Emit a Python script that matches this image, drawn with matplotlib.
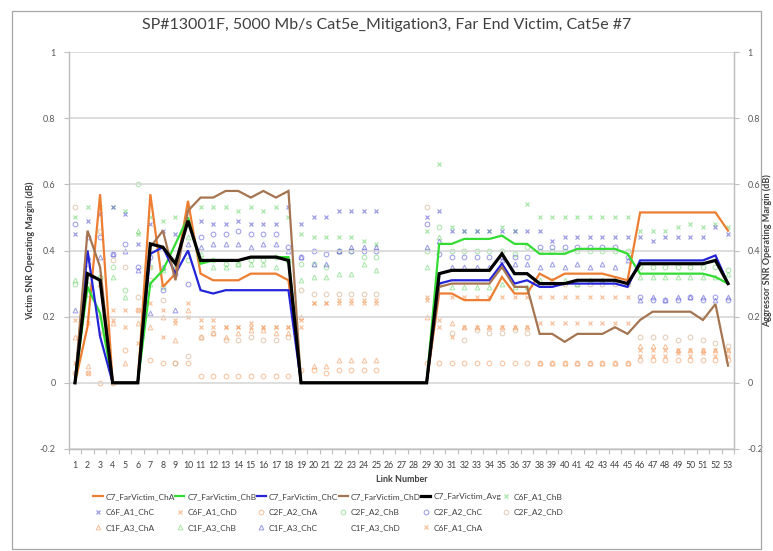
import numpy as np
import matplotlib
matplotlib.use('Agg')
import matplotlib.pyplot as plt
from matplotlib.lines import Line2D
from matplotlib.patches import Rectangle

plt.rcParams['font.family'] = ['Lato', 'DejaVu Sans']

N = np.nan
links = list(range(1, 54))
tick_labels = [str(i) for i in links]
title = "SP#13001F, 5000 Mb/s Cat5e_Mitigation3, Far End Victim, Cat5e #7"

# ---- victim lines (primary axis) ----
far_cha = [0, 0.17, 0.57, 0, 0, 0, 0.57, 0.29, 0.33, 0.55, 0.33, 0.31, 0.31, 0.31, 0.33, 0.33, 0.33, 0.31,
           0, 0, 0, 0, 0, 0, 0, 0, 0, 0, 0,
           0.27, 0.27, 0.25, 0.25, 0.25, 0.32, 0.27, 0.27, 0.33, 0.31, 0.33, 0.33, 0.33, 0.33, 0.32, 0.31,
           0.515, 0.515, 0.515, 0.515, 0.515, 0.515, 0.515, 0.46]
far_chb = [0, 0.29, 0.21, 0, 0, 0, 0.30, 0.34, 0.42, 0.50, 0.36, 0.37, 0.37, 0.37, 0.38, 0.38, 0.38, 0.38,
           0, 0, 0, 0, 0, 0, 0, 0, 0, 0, 0,
           0.42, 0.42, 0.435, 0.435, 0.435, 0.445, 0.42, 0.42, 0.39, 0.39, 0.39, 0.405, 0.405, 0.405, 0.405, 0.39,
           0.33, 0.33, 0.33, 0.33, 0.33, 0.33, 0.32, 0.30]
far_chc = [0, 0.40, 0.14, 0, 0, 0, 0.39, 0.41, 0.33, 0.40, 0.28, 0.27, 0.28, 0.28, 0.28, 0.28, 0.28, 0.28,
           0, 0, 0, 0, 0, 0, 0, 0, 0, 0, 0,
           0.30, 0.31, 0.31, 0.31, 0.31, 0.36, 0.30, 0.31, 0.29, 0.29, 0.30, 0.30, 0.30, 0.30, 0.30, 0.29,
           0.37, 0.37, 0.37, 0.37, 0.37, 0.37, 0.385, 0.30]
far_chd = [0, 0.46, 0.35, 0, 0, 0, 0.41, 0.46, 0.31, 0.52, 0.56, 0.56, 0.58, 0.58, 0.56, 0.58, 0.56, 0.58,
           0, 0, 0, 0, 0, 0, 0, 0, 0, 0, 0,
           0.29, 0.30, 0.30, 0.30, 0.30, 0.35, 0.29, 0.29, 0.148, 0.148, 0.124, 0.148, 0.148, 0.148, 0.168, 0.148,
           0.19, 0.215, 0.215, 0.215, 0.215, 0.19, 0.238, 0.052]
far_avg = [0, 0.33, 0.31, 0, 0, 0, 0.42, 0.41, 0.36, 0.49, 0.37, 0.37, 0.37, 0.37, 0.38, 0.38, 0.38, 0.37,
           0, 0, 0, 0, 0, 0, 0, 0, 0, 0, 0,
           0.33, 0.34, 0.34, 0.34, 0.34, 0.39, 0.33, 0.33, 0.30, 0.30, 0.30, 0.31, 0.31, 0.31, 0.31, 0.30,
           0.36, 0.36, 0.36, 0.36, 0.36, 0.36, 0.37, 0.30]

# ---- aggressor points (secondary axis) ----
c6f_a1_chb = [0.50, 0.53, 0.53, 0.53, 0.52, 0.45, 0.50, 0.49, 0.50, 0.53, 0.53, 0.53, 0.53, 0.52, 0.53, 0.52, 0.53, 0.50,
              0.45, 0.44, 0.44, 0.44, 0.44, 0.43, 0.42, N, N, N,
              0.46, 0.66, 0.47, 0.46, 0.46, 0.46, 0.47, 0.46, 0.54, 0.50, 0.50, 0.50, 0.50, 0.50, 0.50, 0.50, 0.50,
              0.46, 0.46, 0.46, 0.47, 0.48, 0.47, 0.48, 0.47]
c6f_a1_chc = [0.45, 0.49, 0.51, 0.53, 0.51, 0.42, 0.48, 0.46, 0.45, 0.48, 0.49, 0.48, 0.48, 0.49, 0.48, 0.48, 0.48, 0.53,
              0.48, 0.50, 0.50, 0.52, 0.52, 0.52, 0.52, N, N, N,
              0.50, 0.52, 0.46, 0.46, 0.46, 0.46, 0.46, 0.46, 0.46, 0.46, 0.43, 0.44, 0.44, 0.44, 0.44, 0.44, 0.44,
              0.44, 0.43, 0.44, 0.44, 0.44, 0.44, 0.47, 0.45]
c6f_a1_chd = [0.06, 0.03, 0.15, 0.22, 0.22, 0.22, 0.35, 0.22, 0.18, 0.24, 0.19, 0.19, 0.17, 0.17, 0.17, 0.17, 0.17, 0.17,
              0.17, 0.24, 0.24, 0.25, 0.25, 0.25, 0.25, N, N, N,
              0.25, 0.19, 0.26, 0.26, 0.26, 0.26, 0.26, 0.26, 0.26, 0.18, 0.18, 0.18, 0.18, 0.18, 0.18, 0.18, 0.18,
              0.10, 0.10, 0.10, 0.10, 0.10, 0.10, 0.10, 0.10]
c2f_a2_cha = [0.03, 0.03, 0.0, 0.0, 0.10, 0.22, 0.07, 0.06, 0.06, 0.06, 0.02, 0.02, 0.02, 0.02, 0.02, 0.02, 0.02, 0.02,
              0.04, 0.04, 0.03, 0.04, 0.04, 0.04, 0.04, N, N, N,
              0.06, 0.06, 0.06, 0.06, 0.06, 0.06, 0.06, 0.06, 0.06, 0.06, 0.06, 0.06, 0.06, 0.06, 0.06, 0.06, 0.06,
              0.07, 0.07, 0.07, 0.07, 0.07, 0.07, 0.07, 0.07]
c2f_a2_chb = [0.30, 0.27, 0.32, 0.35, 0.28, 0.60, 0.35, 0.29, 0.37, 0.37, 0.37, 0.37, 0.36, 0.36, 0.37, 0.37, 0.38, 0.37,
              0.36, 0.36, 0.35, 0.40, 0.40, 0.38, 0.38, N, N, N,
              0.40, 0.47, 0.40, 0.40, 0.40, 0.40, 0.40, 0.39, 0.41, 0.40, 0.40, 0.40, 0.40, 0.40, 0.40, 0.40, 0.40,
              0.35, 0.35, 0.35, 0.35, 0.35, 0.35, 0.35, 0.34]
c2f_a2_chc = [0.48, 0.44, 0.44, 0.39, 0.42, 0.35, 0.38, 0.28, 0.33, 0.30, 0.44, 0.45, 0.45, 0.46, 0.45, 0.45, 0.45, 0.41,
              0.38, 0.40, 0.39, 0.40, 0.40, 0.40, 0.40, N, N, N,
              0.48, 0.39, 0.38, 0.38, 0.38, 0.38, 0.38, 0.38, 0.38, 0.41, 0.41, 0.41, 0.41, 0.41, 0.41, 0.41, 0.38,
              0.26, 0.25, 0.25, 0.25, 0.26, 0.25, 0.26, 0.25]
c2f_a2_chd = [0.53, 0.36, 0.46, 0.37, 0.35, 0.26, 0.31, 0.25, 0.06, 0.08, 0.14, 0.15, 0.13, 0.13, 0.14, 0.13, 0.13, 0.14,
              0.28, 0.27, 0.27, 0.27, 0.27, 0.27, 0.27, N, N, N,
              0.53, 0.30, 0.15, 0.13, 0.16, 0.15, 0.15, 0.16, 0.15, 0.30, 0.30, 0.30, 0.30, 0.30, 0.30, 0.30, 0.30,
              0.14, 0.14, 0.14, 0.13, 0.14, 0.13, 0.12, 0.11]
c1f_a3_cha = [0.14, 0.05, 0.30, 0.18, 0.06, 0.18, 0.17, 0.20, 0.13, 0.22, 0.14, 0.15, 0.14, 0.15, 0.16, 0.16, 0.15, 0.15,
              0.20, 0.05, 0.05, 0.07, 0.07, 0.07, 0.07, N, N, N,
              0.20, 0.30, 0.18, 0.17, 0.17, 0.17, 0.17, 0.17, 0.17, 0.06, 0.06, 0.06, 0.06, 0.06, 0.06, 0.06, 0.06,
              0.11, 0.11, 0.11, 0.10, 0.10, 0.10, 0.10, 0.10]
c1f_a3_chb = [0.31, 0.30, 0.32, 0.32, 0.26, 0.46, 0.30, 0.34, 0.35, 0.44, 0.39, 0.35, 0.35, 0.36, 0.36, 0.36, 0.35, 0.37,
              0.31, 0.32, 0.32, 0.33, 0.33, 0.36, 0.34, N, N, N,
              0.35, 0.44, 0.29, 0.29, 0.29, 0.29, 0.30, 0.29, 0.29, 0.31, 0.31, 0.31, 0.30, 0.31, 0.31, 0.31, 0.31,
              0.32, 0.32, 0.32, 0.32, 0.32, 0.32, 0.32, 0.33]
c1f_a3_chc = [0.22, 0.38, 0.38, 0.39, 0.40, 0.34, 0.21, 0.35, 0.22, 0.42, 0.41, 0.42, 0.42, 0.42, 0.41, 0.42, 0.42, 0.40,
              0.38, 0.36, 0.36, 0.40, 0.41, 0.41, 0.41, N, N, N,
              0.41, 0.43, 0.35, 0.35, 0.35, 0.35, 0.37, 0.36, 0.36, 0.35, 0.36, 0.35, 0.36, 0.35, 0.36, 0.35, 0.37,
              0.25, 0.26, 0.25, 0.26, 0.26, 0.26, 0.25, 0.26]
c1f_a3_chd = []  # no visible points
c6f_a1_cha = [0.19, 0.18, 0.20, 0.19, 0.17, 0.12, 0.24, 0.14, 0.19, 0.20, 0.17, 0.17, 0.17, 0.17, 0.18, 0.17, 0.17, 0.17,
              0.19, 0.24, 0.24, 0.24, 0.24, 0.24, 0.24, N, N, N,
              0.26, 0.17, 0.14, 0.17, 0.17, 0.17, 0.17, 0.17, 0.17, 0.26, 0.26, 0.26, 0.26, 0.26, 0.26, 0.26, 0.26,
              0.08, 0.08, 0.08, 0.09, 0.08, 0.09, 0.08, 0.08]

W, H = 773, 551
fig = plt.figure(figsize=(W / 100, H / 100), dpi=100)
ax = fig.add_axes([68.7 / W, 1 - 449 / H, (734.3 - 68.7) / W, (449 - 52) / H])
ax2 = ax.twinx()

# colours
c_a, c_b, c_c, c_d = '#ED7D31', '#33DD33', '#2424D8', '#A57450'
p_orange, p_green, p_blue, p_tan = '#F5A36C', '#7EDB7E', '#6B6BDB', '#D6B38F'

line_specs = [
    ('C7_FarVictim_ChA', far_cha, c_a, 1.6),
    ('C7_FarVictim_ChB', far_chb, c_b, 1.6),
    ('C7_FarVictim_ChC', far_chc, c_c, 1.6),
    ('C7_FarVictim_ChD', far_chd, c_d, 1.6),
    ('C7_FarVictim_Avg', far_avg, '#000000', 2.3),
]
handles = []
for lab, vals, col, lw in line_specs:
    h, = ax.plot(links, vals, color=col, lw=lw, label=lab, solid_joinstyle='miter')
    handles.append(h)

pt_specs = [
    ('C6F_A1_ChB', c6f_a1_chb, p_green, 'x'),
    ('C6F_A1_ChC', c6f_a1_chc, p_blue, 'x'),
    ('C6F_A1_ChD', c6f_a1_chd, p_orange, 'x'),
    ('C2F_A2_ChA', c2f_a2_cha, p_orange, 'o'),
    ('C2F_A2_ChB', c2f_a2_chb, p_green, 'o'),
    ('C2F_A2_ChC', c2f_a2_chc, p_blue, 'o'),
    ('C2F_A2_ChD', c2f_a2_chd, p_tan, 'o'),
    ('C1F_A3_ChA', c1f_a3_cha, p_orange, '^'),
    ('C1F_A3_ChB', c1f_a3_chb, p_green, '^'),
    ('C1F_A3_ChC', c1f_a3_chc, p_blue, '^'),
    ('C1F_A3_ChD', c1f_a3_chd, 'none', 'None'),
    ('C6F_A1_ChA', c6f_a1_cha, p_orange, 'x'),
]
for lab, vals, col, mk in pt_specs:
    xs = links[:len(vals)]
    if mk == 'x':
        h, = ax2.plot(xs, vals, linestyle='none', marker='x', ms=2.4, mew=0.9, color=col, alpha=0.65, label=lab)
    elif mk == 'None':
        h, = ax2.plot(xs, vals, linestyle='none', marker='None', label=lab)
    else:
        h, = ax2.plot(xs, vals, linestyle='none', marker=mk, ms=3.4, mew=0.75, mfc='none', mec=col, alpha=0.65, label=lab)
    handles.append(h)

# lines on top of the aggressor points
ax.set_zorder(ax2.get_zorder() + 1)
ax.patch.set_visible(False)

for a in (ax, ax2):
    a.set_ylim(-0.2, 1.0)
    a.set_xlim(0.5, 53.5)
    a.set_yticks([-0.2, 0, 0.2, 0.4, 0.6, 0.8, 1.0])
    a.set_yticklabels(['-0.2', '0', '0.2', '0.4', '0.6', '0.8', '1'])
    for s in a.spines.values():
        s.set_color('#BFBFBF')
        s.set_linewidth(0.9)
    a.spines['top'].set_visible(False)
    a.tick_params(axis='y', length=3.5, width=0.8, color='#BFBFBF', labelsize=6.5,
                  labelcolor='#595959', pad=6)

ax.grid(axis='y', color='#D4D4D4', lw=1.1)
ax.set_axisbelow(True)
ax.set_xticks(links)
ax.set_xticklabels(tick_labels)
ax.set_xticks(np.arange(0.5, 54, 1.0), minor=True)
ax.tick_params(axis='x', which='major', length=0, labelsize=6.3, labelcolor='#404040', pad=9)
ax.tick_params(axis='x', which='minor', length=3.5, width=0.8, color='#BFBFBF')
ax2.tick_params(axis='x', which='both', length=0)

ax.set_ylabel('Victim SNR Operating Margin (dB)', fontsize=6.5, fontweight='bold', color='#404040')
ax.yaxis.set_label_coords((35 - 68.7) / 665.6, 0.5)
ax2.set_ylabel('Aggressor SNR Operating Margin (dB)', fontsize=6.5, fontweight='bold', color='#404040',
               rotation=90)
ax2.yaxis.set_label_coords((763 - 68.7) / 665.6, 0.5)
ax.set_xlabel('Link Number', fontsize=6.5, fontweight='bold', color='#404040', labelpad=3)

fig.text(0.5, 1 - 25 / H, title, ha='center', va='center', fontsize=11.5, color='#404040')

# legend: matplotlib fills column by column, so reorder to read row by row
ncol = 6
order = []
for c in range(ncol):
    order.extend(range(c, len(handles), ncol))
leg_h = [handles[i] for i in order]
leg_l = [handles[i].get_label() for i in order]
fig.legend(leg_h, leg_l, ncol=ncol, loc='upper left', bbox_to_anchor=(90 / W, 1 - 490 / H),
           frameon=False, fontsize=6.0, handlelength=1.1, handletextpad=0.35, columnspacing=0.05,
           labelspacing=1.0, borderaxespad=0, labelcolor='#404040')

fig.patches.append(Rectangle((12 / W, 2 / H), (W - 12.5) / W - 12 / W, (H - 11) / H - 2 / H,
                             transform=fig.transFigure, fill=False, edgecolor='#A6A6A6', lw=0.9))

fig.savefig('out.png', dpi=100)
